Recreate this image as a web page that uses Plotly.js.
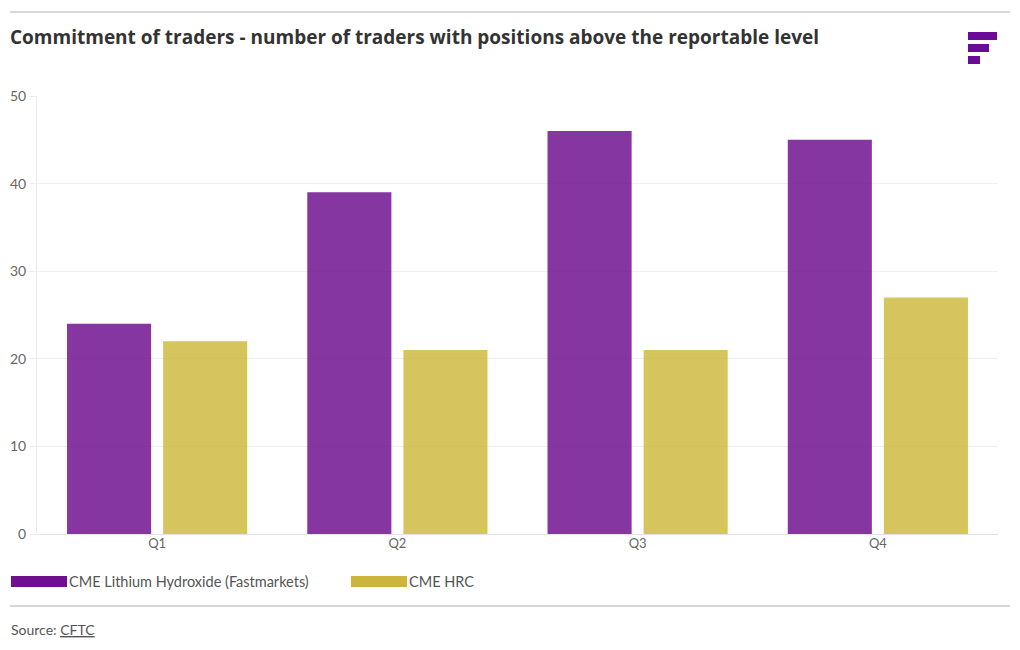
<!DOCTYPE html>
<html>
<head>
<meta charset="utf-8">
<script src="https://cdn.plot.ly/plotly-3.0.1.min.js"></script>
<style>
  html, body { margin: 0; padding: 0; background: #fff; }
  #chart { width: 1020px; height: 650px; }
</style>
</head>
<body>
<div id="chart"></div>
<script>
const quarters = ["Q1", "Q2", "Q3", "Q4"];
const lithiumTraders = [24, 39, 46, 45];
const hrcTraders = [22, 21, 21, 27];
const seriesNames = ["CME Lithium Hydroxide (Fastmarkets)", "CME HRC"];

const W = 1020, H = 650;
const M = { l: 37, r: 22, t: 96, b: 116 };
const plotW = W - M.l - M.r;
const plotH = H - M.t - M.b;

// pixel -> paper coords
const px = (x) => (x - M.l) / plotW;
const py = (y) => (H - M.b - y) / plotH;

function rect(x0, y0, x1, y1, color) {
    return {
        type: "rect", xref: "paper", yref: "paper",
        x0: px(x0), x1: px(x1), y0: py(y1), y1: py(y0),
        fillcolor: color, line: { width: 0 }, layer: "above"
    };
}

function hline(y, color) {
    return {
        type: "line", xref: "paper", yref: "paper",
        x0: px(10), x1: px(1010), y0: py(y), y1: py(y),
        line: { color: color, width: 2 }
    };
}

const font = "Lato, 'Open Sans', sans-serif";

const data = [
    {
        x: quarters, y: lithiumTraders, name: seriesNames[0], type: "bar",
        marker: { color: "#6e0d8e", opacity: 0.83 },
        hovertemplate: "%{x}: %{y}<extra></extra>"
    },
    {
        x: quarters, y: hrcTraders, name: seriesNames[1], type: "bar",
        marker: { color: "#ccb537", opacity: 0.8 },
        hovertemplate: "%{x}: %{y}<extra></extra>"
    }
];

const layout = {
    width: W, height: H,
    margin: M,
    paper_bgcolor: "#fff",
    plot_bgcolor: "#fff",
    showlegend: false,
    barmode: "group",
    bargap: 0.2,
    bargroupgap: 0.125,
    font: { family: font, color: "#666", size: 13 },
    xaxis: {
        showgrid: false,
        showline: false,
        ticks: "",
        tickfont: { size: 13, color: "#666" },
        fixedrange: true
    },
    yaxis: {
        range: [0, 50],
        dtick: 10,
        showgrid: true,
        gridcolor: "#efefef",
        zeroline: true,
        zerolinecolor: "#e3e3e3",
        showline: true,
        linecolor: "#ececec",
        ticks: "outside",
        ticklen: 7,
        tickcolor: "#ececec",
        tickfont: { size: 14, color: "#666" },
        fixedrange: true
    },
    shapes: [
        hline(12, "#d6d6d6"),
        hline(606, "#d6d6d6"),
        // logo
        rect(968, 32, 997, 40, "#6a0a96"),
        rect(968, 44, 989, 52, "#6a0a96"),
        rect(968, 56, 980, 64, "#6a0a96"),
        // legend swatches
        rect(11, 576, 67, 587, "#6e0f8f"),
        rect(351, 576, 407, 587, "#ccb53a")
    ],
    annotations: [
        {
            text: "<b>Commitment of traders - number of traders with positions above the reportable level</b>",
            xref: "paper", yref: "paper", x: px(8), y: py(37),
            xanchor: "left", yanchor: "middle", showarrow: false,
            font: { family: "'Open Sans', sans-serif", size: 19, color: "#333" }
        },
        {
            text: seriesNames[0],
            xref: "paper", yref: "paper", x: px(67), y: py(581),
            xanchor: "left", yanchor: "middle", showarrow: false,
            font: { family: font, size: 14.5, color: "#555" }
        },
        {
            text: seriesNames[1],
            xref: "paper", yref: "paper", x: px(407), y: py(581),
            xanchor: "left", yanchor: "middle", showarrow: false,
            font: { family: font, size: 14.5, color: "#555" }
        },
        {
            text: "Source: <u>CFTC</u>",
            xref: "paper", yref: "paper", x: px(9), y: py(629),
            xanchor: "left", yanchor: "middle", showarrow: false,
            font: { family: font, size: 14, color: "#555" }
        }
    ]
};

Plotly.newPlot("chart", data, layout, { displayModeBar: false, staticPlot: true });
</script>
</body>
</html>
